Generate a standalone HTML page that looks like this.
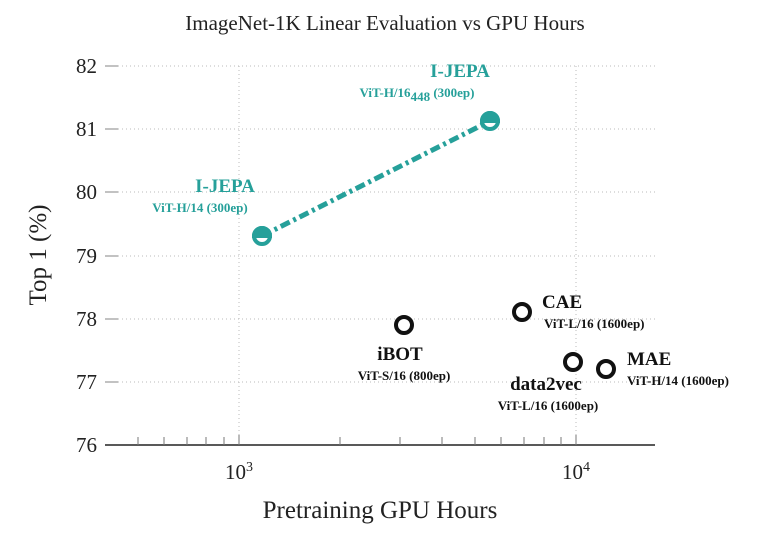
<!DOCTYPE html>
<html><head><style>body{margin:0;background:#fff}svg{display:block}text{font-family:"Liberation Serif",serif}</style></head><body>
<svg width="770" height="553" xmlns="http://www.w3.org/2000/svg">
<text x="385" y="30" font-size="21" text-anchor="middle" fill="#222">ImageNet-1K Linear Evaluation vs GPU Hours</text>
<g stroke="#bbb" stroke-width="1" stroke-dasharray="1,3">
<line x1="118" y1="66" x2="655" y2="66"/><line x1="118" y1="129" x2="655" y2="129"/><line x1="118" y1="192" x2="655" y2="192"/><line x1="118" y1="256" x2="655" y2="256"/><line x1="118" y1="319" x2="655" y2="319"/><line x1="118" y1="382" x2="655" y2="382"/>
<line x1="239" y1="66" x2="239" y2="445"/><line x1="576" y1="66" x2="576" y2="445"/>
</g>
<g stroke="#999" stroke-width="1.2">
<line x1="105" y1="66" x2="118" y2="66"/><line x1="105" y1="129" x2="118" y2="129"/><line x1="105" y1="192" x2="118" y2="192"/><line x1="105" y1="256" x2="118" y2="256"/><line x1="105" y1="319" x2="118" y2="319"/><line x1="105" y1="382" x2="118" y2="382"/>
</g>
<line x1="105" y1="445" x2="655" y2="445" stroke="#222" stroke-width="1.5"/>
<g stroke="#777" stroke-width="1">
<line x1="138" y1="445" x2="138" y2="437"/><line x1="164" y1="445" x2="164" y2="437"/><line x1="187" y1="445" x2="187" y2="437"/><line x1="206" y1="445" x2="206" y2="437"/><line x1="224" y1="445" x2="224" y2="437"/><line x1="239" y1="445" x2="239" y2="435"/>
<line x1="340" y1="445" x2="340" y2="437"/><line x1="400" y1="445" x2="400" y2="437"/><line x1="442" y1="445" x2="442" y2="437"/><line x1="475" y1="445" x2="475" y2="437"/><line x1="501" y1="445" x2="501" y2="437"/><line x1="524" y1="445" x2="524" y2="437"/><line x1="544" y1="445" x2="544" y2="437"/><line x1="561" y1="445" x2="561" y2="437"/><line x1="576" y1="445" x2="576" y2="435"/>
</g>
<g font-size="21" fill="#222" text-anchor="end">
<text x="97" y="73">82</text><text x="97" y="136">81</text><text x="97" y="199">80</text><text x="97" y="263">79</text><text x="97" y="326">78</text><text x="97" y="389">77</text><text x="97" y="452">76</text>
</g>
<text x="239" y="479" font-size="21" text-anchor="middle" fill="#222">10<tspan font-size="14" dy="-8">3</tspan></text>
<text x="576" y="479" font-size="21" text-anchor="middle" fill="#222">10<tspan font-size="14" dy="-8">4</tspan></text>
<text x="380" y="518" font-size="25" text-anchor="middle" fill="#222">Pretraining GPU Hours</text>
<text transform="translate(46,255) rotate(-90)" font-size="25" text-anchor="middle" fill="#222">Top 1 (%)</text>
<line x1="262" y1="236" x2="490" y2="121" stroke="#26a09a" stroke-width="5" stroke-dasharray="10,4,3,4"/>
<g stroke="#26a09a" stroke-width="4">
<circle cx="262" cy="236" r="8" fill="#fff"/><path d="M254 236 A8 8 0 0 1 270 236 Z" fill="#26a09a"/>
<circle cx="490" cy="121" r="8" fill="#fff"/><path d="M482 121 A8 8 0 0 1 498 121 Z" fill="#26a09a"/>
</g>
<g stroke="#111" stroke-width="4" fill="#fff">
<circle cx="404" cy="325" r="8"/><circle cx="522" cy="312" r="8"/><circle cx="573" cy="362" r="8"/><circle cx="606" cy="369" r="8"/>
</g>
<g fill="#26a09a" font-weight="bold">
<text x="225" y="192" font-size="19" text-anchor="middle">I-JEPA</text>
<text x="200" y="212" font-size="13" text-anchor="middle">ViT-H/14 (300ep)</text>
<text x="460" y="77" font-size="19" text-anchor="middle">I-JEPA</text>
<text x="417" y="97" font-size="13" text-anchor="middle">ViT-H/16<tspan dy="4">448</tspan><tspan dy="-4"> (300ep)</tspan></text>
</g>
<g fill="#111" font-weight="bold">
<text x="400" y="360" font-size="19" text-anchor="middle">iBOT</text>
<text x="404" y="380" font-size="13" text-anchor="middle">ViT-S/16 (800ep)</text>
<text x="542" y="308" font-size="19">CAE</text>
<text x="544" y="328" font-size="13">ViT-L/16 (1600ep)</text>
<text x="546" y="390" font-size="19" text-anchor="middle">data2vec</text>
<text x="548" y="410" font-size="13" text-anchor="middle">ViT-L/16 (1600ep)</text>
<text x="627" y="365" font-size="19">MAE</text>
<text x="627" y="385" font-size="13">ViT-H/14 (1600ep)</text>
</g>
</svg>
</body></html>
